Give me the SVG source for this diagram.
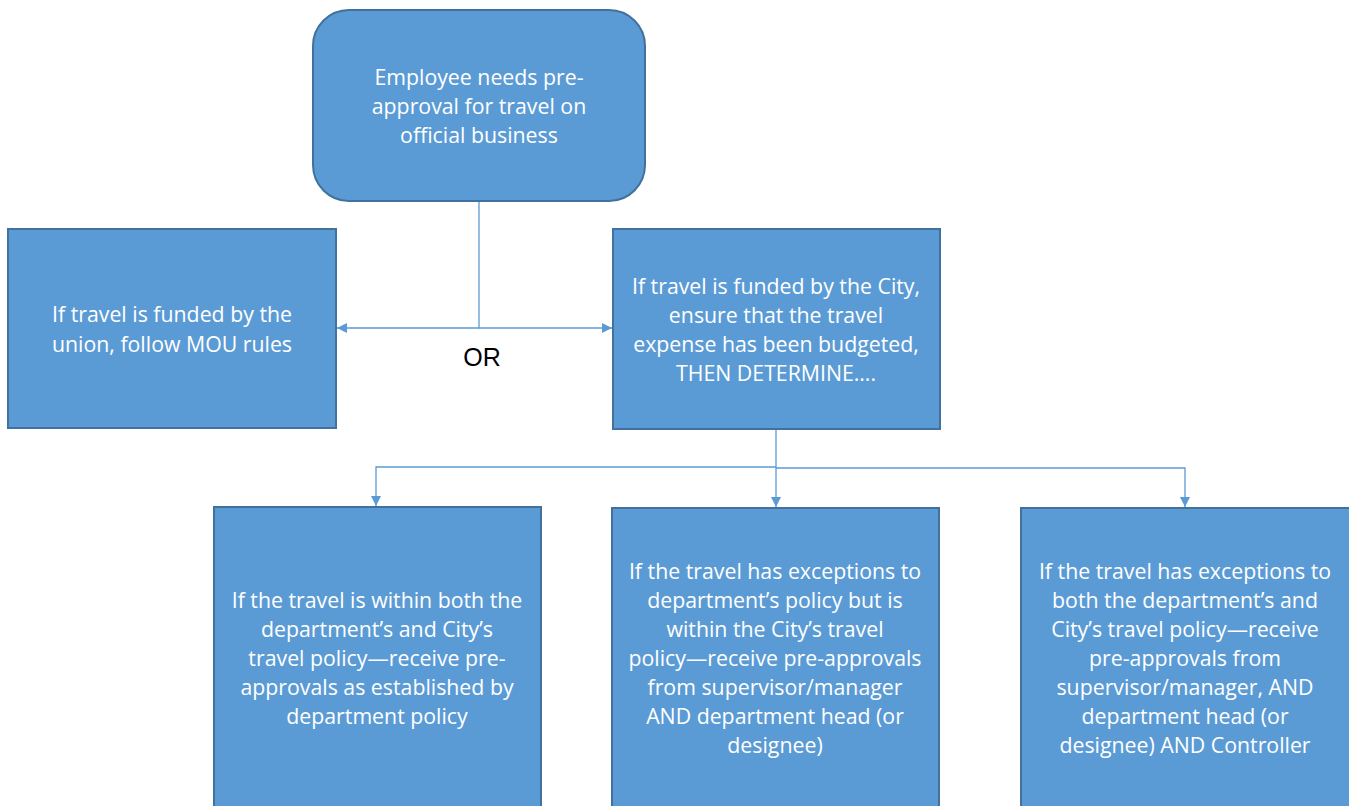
<svg xmlns="http://www.w3.org/2000/svg" width="1349" height="806" viewBox="0 0 1349 806">
<style>
.box{fill:#5B9BD5;stroke:#41719C;stroke-width:2}
.t{font-family:"Open Sans","Liberation Sans",Arial,sans-serif;font-size:21.3px;fill:#ffffff;text-anchor:middle}
.c{fill:none;stroke:#5B9BD5;stroke-width:1.3}
.or{font-family:"Liberation Sans",Arial,sans-serif;font-size:25px;fill:#000;text-anchor:middle}
</style>
<defs>
<marker id="ah" viewBox="0 0 10 10" refX="10" refY="5" markerWidth="10" markerHeight="10" markerUnits="userSpaceOnUse" orient="auto">
<path d="M0,0 L10,5 L0,10 z" fill="#5B9BD5"/>
</marker>
</defs>
<g id="connectors">
<path class="c" d="M479,202 V328 H337" marker-end="url(#ah)"/>
<path class="c" d="M479,328 H612" marker-end="url(#ah)"/>
<path class="c" d="M776,430 V467 H376 V506" marker-end="url(#ah)"/>
<path class="c" d="M776,467 V507" marker-end="url(#ah)"/>
<path class="c" d="M776,468 H1185 V507" marker-end="url(#ah)"/>
<text class="or" x="482" y="366">OR</text>
</g>
<g id="start">
<rect class="box" x="313" y="10" width="332" height="191" rx="36"/>
<text class="t" x="479" y="85">Employee needs pre-</text>
<text class="t" x="479" y="114">approval for travel on</text>
<text class="t" x="479" y="143">official business</text>
</g>
<g id="union">
<rect class="box" x="8" y="229" width="328" height="199"/>
<text class="t" x="172" y="322">If travel is funded by the</text>
<text class="t" x="172" y="352">union, follow MOU rules</text>
</g>
<g id="city">
<rect class="box" x="613" y="229" width="327" height="200"/>
<text class="t" x="776" y="294">If travel is funded by the City,</text>
<text class="t" x="776" y="323">ensure that the travel</text>
<text class="t" x="776" y="352">expense has been budgeted,</text>
<text class="t" x="776" y="381">THEN DETERMINE….</text>
</g>
<g id="within">
<rect class="box" x="214" y="507" width="327" height="310"/>
<text class="t" x="377" y="608">If the travel is within both the</text>
<text class="t" x="377" y="637">department’s and City’s</text>
<text class="t" x="377" y="666">travel policy—receive pre-</text>
<text class="t" x="377" y="695">approvals as established by</text>
<text class="t" x="377" y="724">department policy</text>
</g>
<g id="deptexc">
<rect class="box" x="612" y="508" width="327" height="310"/>
<text class="t" x="775" y="579">If the travel has exceptions to</text>
<text class="t" x="775" y="608">department’s policy but is</text>
<text class="t" x="775" y="637">within the City’s travel</text>
<text class="t" x="775" y="666">policy—receive pre-approvals</text>
<text class="t" x="775" y="695">from supervisor/manager</text>
<text class="t" x="775" y="724">AND department head (or</text>
<text class="t" x="775" y="753">designee)</text>
</g>
<g id="bothexc">
<rect class="box" x="1021" y="508" width="330" height="310"/>
<text class="t" x="1185" y="579">If the travel has exceptions to</text>
<text class="t" x="1185" y="608">both the department’s and</text>
<text class="t" x="1185" y="637">City’s travel policy—receive</text>
<text class="t" x="1185" y="666">pre-approvals from</text>
<text class="t" x="1185" y="695">supervisor/manager, AND</text>
<text class="t" x="1185" y="724">department head (or</text>
<text class="t" x="1185" y="753">designee) AND Controller</text>
</g>
</svg>
